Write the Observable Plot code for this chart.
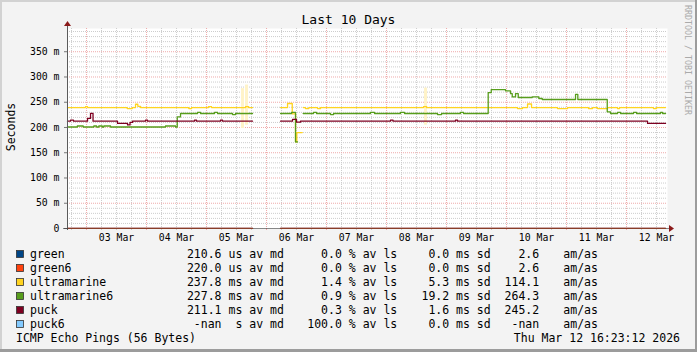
<!DOCTYPE html>
<html><head><meta charset="utf-8">
<script src="https://cdn.jsdelivr.net/npm/d3@7"></script>
<script src="https://cdn.jsdelivr.net/npm/@observablehq/plot@0.6"></script>
<style>
html,body{margin:0;padding:0;background:#f3f3f3;}
#chart{width:697px;height:352px;position:relative;overflow:hidden;}
#chart svg{display:block;}
</style></head><body><div id="chart"></div>
<script>
const FONT = "DejaVu Sans Mono";
const title = "Last 10 Days";
const yLabel = "Seconds";
const sideText = "RRDTOOL / TOBI OETIKER";
const footer = "ICMP Echo Pings (56 Bytes)";
const stamp = "Thu Mar 12 16:23:12 2026";
const startTime = "2026-03-02T16:23:12";
const endTime = "2026-03-12T16:23:12";
const yMax = 396;

const xLabelTimes = ["2026-03-03T12:00","2026-03-04T12:00","2026-03-05T12:00","2026-03-06T12:00","2026-03-07T12:00","2026-03-08T12:00","2026-03-09T12:00","2026-03-10T12:00","2026-03-11T12:00","2026-03-12T12:00"];
const xLabels = ["03 Mar","04 Mar","05 Mar","06 Mar","07 Mar","08 Mar","09 Mar","10 Mar","11 Mar","12 Mar"];
const yTicks = [0, 50, 100, 150, 200, 250, 300, 350];
const yTickLabels = ["0", "50 m", "100 m", "150 m", "200 m", "250 m", "300 m", "350 m"];

// legend
const legendNames = ["green","green6","ultramarine","ultramarine6","puck","puck6"];
const legendColors = ["#004586","#ff420e","#ffd320","#579d1c","#7e0021","#83caff"];
const avgValues = ["210.6","220.0","237.8","227.8","211.1","-nan"];
const avgUnits = ["us","us","ms","ms","ms","s"];
const lossValues = ["0.0","0.0","1.4","0.9","0.3","100.0"];
const sdValues = ["0.0","0.0","5.3","19.2","1.6","0.0"];
const amasValues = ["2.6","2.6","114.1","264.3","245.2","-nan"];

// series (ms), step-after; null = no data
const green = [
  ["2026-03-02T16:23", 0.2106], ["2026-03-05T18:24", 0.2106], ["2026-03-05T18:24", null],
  ["2026-03-06T05:36", 0.2106], ["2026-03-12T15:36", 0.2106]
];
const green6 = [
  ["2026-03-02T16:23", 0.22], ["2026-03-05T18:24", 0.22], ["2026-03-05T18:24", null],
  ["2026-03-06T05:36", 0.22], ["2026-03-12T15:36", 0.22]
];
const ultramarine = [
  ["2026-03-02T16:23", 239.5], ["2026-03-02T23:36", 241.5], ["2026-03-03T00:24", 239.5],
  ["2026-03-03T16:17", 237.5], ["2026-03-03T18:17", 239.5], ["2026-03-03T19:36", 246],
  ["2026-03-03T20:31", 242], ["2026-03-03T21:36", 239.5], ["2026-03-04T16:55", 237.5],
  ["2026-03-04T18:00", 239.5], ["2026-03-05T00:48", 241.5], ["2026-03-05T02:00", 239.5],
  ["2026-03-05T15:36", 241.5], ["2026-03-05T16:48", 239.5], ["2026-03-05T18:24", 239.5],
  ["2026-03-05T18:24", null],
  ["2026-03-06T05:36", 239.5], ["2026-03-06T08:24", 247.5], ["2026-03-06T10:17", 227],
  ["2026-03-06T11:36", 171.5], ["2026-03-06T12:07", 190], ["2026-03-06T14:17", 190],
  ["2026-03-06T14:17", null],
  ["2026-03-06T14:41", 239.5], ["2026-03-06T15:36", 237.5], ["2026-03-06T16:55", 239.5],
  ["2026-03-06T20:24", 237.5], ["2026-03-06T21:36", 239.5], ["2026-03-08T14:48", 241.5],
  ["2026-03-08T16:00", 239.5], ["2026-03-10T04:24", 237.5], ["2026-03-10T06:24", 239.5],
  ["2026-03-10T08:24", 246.5], ["2026-03-10T10:00", 239.5], ["2026-03-10T20:24", 237.5],
  ["2026-03-11T00:24", 239.5], ["2026-03-11T08:48", 237.5], ["2026-03-11T10:24", 239.5],
  ["2026-03-11T12:24", 237.5], ["2026-03-11T16:24", 239.5], ["2026-03-11T20:24", 237.5],
  ["2026-03-11T21:12", 239.5], ["2026-03-12T10:48", 237.5], ["2026-03-12T12:00", 239.5],
  ["2026-03-12T15:36", 239.5]
];
const ultramarine6 = [
  ["2026-03-02T16:23", 201], ["2026-03-02T20:20", 203], ["2026-03-02T22:40", 201],
  ["2026-03-03T02:55", 203], ["2026-03-03T04:00", 201], ["2026-03-03T04:55", 203],
  ["2026-03-03T06:17", 201], ["2026-03-03T06:55", 203], ["2026-03-03T09:36", 201],
  ["2026-03-04T07:36", 203], ["2026-03-04T11:36", 201], ["2026-03-04T12:17", 221],
  ["2026-03-04T13:36", 227.7], ["2026-03-04T20:24", 230], ["2026-03-04T21:36", 227.7],
  ["2026-03-05T03:12", 230], ["2026-03-05T04:24", 227.7], ["2026-03-05T10:24", 225.5],
  ["2026-03-05T11:36", 227.7], ["2026-03-05T18:24", 227.7], ["2026-03-05T18:24", null],
  ["2026-03-06T05:36", 227.7], ["2026-03-06T10:00", 230], ["2026-03-06T11:36", 171.5],
  ["2026-03-06T12:24", 171.5], ["2026-03-06T12:24", null],
  ["2026-03-06T14:40", 227.7], ["2026-03-06T18:48", 230], ["2026-03-06T20:00", 227.7],
  ["2026-03-07T01:36", 225.5], ["2026-03-07T02:48", 227.7], ["2026-03-07T17:36", 230],
  ["2026-03-07T19:12", 227.7], ["2026-03-08T05:36", 230], ["2026-03-08T07:12", 227.7],
  ["2026-03-08T20:24", 225.5], ["2026-03-08T22:00", 227.7], ["2026-03-09T05:36", 230],
  ["2026-03-09T06:48", 227.7], ["2026-03-09T16:40", 269], ["2026-03-09T17:53", 275],
  ["2026-03-09T23:36", 272.5], ["2026-03-10T01:36", 267], ["2026-03-10T02:17", 260.6],
  ["2026-03-10T03:36", 267], ["2026-03-10T04:41", 259.4], ["2026-03-10T10:17", 260.6],
  ["2026-03-10T12:55", 257.4], ["2026-03-10T14:17", 255.4], ["2026-03-11T03:36", 265.5],
  ["2026-03-11T04:31", 255.4], ["2026-03-11T16:17", 231], ["2026-03-11T17:36", 227.7],
  ["2026-03-11T20:24", 230], ["2026-03-11T21:36", 227.7], ["2026-03-12T02:48", 230],
  ["2026-03-12T04:00", 227.7], ["2026-03-12T13:36", 230], ["2026-03-12T14:24", 227.7],
  ["2026-03-12T15:36", 227.7]
];
const puck = [
  ["2026-03-02T16:23", 212.5], ["2026-03-02T17:36", 214.5], ["2026-03-02T18:48", 212.5],
  ["2026-03-03T00:24", 218], ["2026-03-03T01:36", 228], ["2026-03-03T02:36", 212.5],
  ["2026-03-03T12:24", 208], ["2026-03-03T16:24", 205], ["2026-03-03T17:24", 210],
  ["2026-03-03T18:24", 212.5], ["2026-03-03T23:36", 214.5], ["2026-03-04T00:24", 212.5],
  ["2026-03-04T19:12", 214.5], ["2026-03-04T20:00", 212.5], ["2026-03-05T05:36", 214.5],
  ["2026-03-05T06:24", 212.5], ["2026-03-05T18:24", 212.5], ["2026-03-05T18:24", null],
  ["2026-03-06T05:36", 212.5], ["2026-03-06T10:24", 216], ["2026-03-06T12:00", 210.5],
  ["2026-03-06T13:36", 212.5], ["2026-03-08T01:36", 214.5], ["2026-03-08T02:36", 212.5],
  ["2026-03-09T03:36", 214.5], ["2026-03-09T04:24", 212.5], ["2026-03-12T08:24", 208],
  ["2026-03-12T15:36", 208]
];
// smoke (ultramarine spread)
const smokeTimes = ["2026-03-05T14:24", "2026-03-05T16:00", "2026-03-08T15:36"];
const smokeLow = [198, 204.5, 204.5];
const smokeHigh = [277, 284, 278];

const seriesList = [
  {name: "green", data: green, color: legendColors[0]},
  {name: "green6", data: green6, color: legendColors[1]},
  {name: "ultramarine", data: ultramarine, color: legendColors[2]},
  {name: "ultramarine6", data: ultramarine6, color: legendColors[3]},
  {name: "puck", data: puck, color: legendColors[4]}
];

const t0 = new Date(startTime), t1 = new Date(endTime);
const majorX = d3.timeDay.range(t0, t1);
const minorX = d3.timeHour.every(6).range(t0, t1).filter(d => d.getHours() !== 0);
const majorY = d3.range(50, yMax, 50);
const minorY = d3.range(10, yMax, 10).filter(v => v % 50 !== 0);
const xLabelMap = new Map(xLabelTimes.map((s, i) => [+new Date(s), xLabels[i]]));
const yLabelMap = new Map(yTicks.map((v, i) => [v, yTickLabels[i]]));
const smoke = smokeTimes.map((t, i) => ({t: new Date(t), lo: smokeLow[i], hi: smokeHigh[i]}));

const lineMarks = seriesList.map(s => Plot.line(
  s.data.map(([t, v]) => ({t: new Date(t), v})),
  {x: "t", y: "v", stroke: s.color, strokeWidth: 1.3, curve: "step-after"}
));

const chart = Plot.plot({
  width: 697, height: 352,
  marginLeft: 67, marginRight: 30, marginTop: 28, marginBottom: 124,
  style: {background: "transparent", fontFamily: FONT, fontSize: "9.8px", color: "#000", overflow: "visible"},
  x: {type: "time", domain: [t0, t1]},
  y: {domain: [0, yMax]},
  marks: [
    Plot.frame({fill: "white", stroke: null}),
    Plot.ruleY(minorY, {stroke: "#cdcdcd", strokeDasharray: "1,1"}),
    Plot.ruleX(minorX, {stroke: "#cdcdcd", strokeDasharray: "1,1"}),
    Plot.ruleY(majorY, {stroke: "#efaaaa", strokeDasharray: "1,1"}),
    Plot.ruleX(majorX, {stroke: "#efaaaa", strokeDasharray: "1,1"}),
    Plot.ruleX(minorX, {y1: 0, y2: -4, stroke: "#c8c8c8"}),
    Plot.ruleX(majorX, {y1: 0, y2: -4, stroke: "#efaaaa"}),
    Plot.ruleX(smoke, {x: "t", y1: "lo", y2: "hi", stroke: "#fff3c8", strokeWidth: 3}),
    Plot.axisY(yTicks, {tickFormat: d => yLabelMap.get(d), tickSize: 3, tickPadding: 5, stroke: "#777", label: null}),
    Plot.axisX(xLabelTimes.map(s => new Date(s)), {tickFormat: d => xLabelMap.get(+d), tickSize: 0, tickPadding: 6, label: null}),
    ...lineMarks
  ]
});

const svg = d3.select(chart);
const X = chart.scale("x"), Y = chart.scale("y");
const x0 = X.apply(t0), x1 = X.apply(t1), y0 = Y.apply(0), yTop = Y.apply(yMax);

// axes lines & arrows
svg.append("line").attr("x1", x0 + 0.5).attr("x2", x0 + 0.5).attr("y1", y0 + 2).attr("y2", yTop - 5)
  .attr("stroke", "#5a5a5a");
svg.append("line").attr("x1", x0 - 4).attr("x2", x1 + 2).attr("y1", y0 + 0.5).attr("y2", y0 + 0.5)
  .attr("stroke", "#3a3a3a").attr("stroke-opacity", 0.6);
svg.append("path").attr("d", `M${x0 - 3},${yTop - 2}L${x0 + 4},${yTop - 2}L${x0 + 0.5},${yTop - 7}Z`).attr("fill", "#8b1a1a");
svg.append("path").attr("d", `M${x1 + 2},${y0 - 3}L${x1 + 2},${y0 + 4}L${x1 + 7},${y0 + 0.5}Z`).attr("fill", "#8b1a1a");

// borders
svg.append("rect").attr("x", 0).attr("y", 0).attr("width", 697).attr("height", 2).attr("fill", "#d2d2d2");
svg.append("rect").attr("x", 0).attr("y", 0).attr("width", 2).attr("height", 352).attr("fill", "#d2d2d2");
svg.append("rect").attr("x", 695).attr("y", 0).attr("width", 2).attr("height", 352).attr("fill", "#9c9c9c");
svg.append("rect").attr("x", 0).attr("y", 349).attr("width", 697).attr("height", 3).attr("fill", "#9c9c9c");

const txt = (x, y, s, opts = {}) => svg.append("text").attr("x", x).attr("y", y).attr("dy", "0.35em")
  .attr("font-family", FONT).attr("font-size", opts.size || 11.5).attr("fill", opts.fill || "#000")
  .attr("text-anchor", opts.anchor || "start").attr("transform", opts.transform || null).text(s);

txt(348.5, 19, title, {size: 13, anchor: "middle"});
txt(0, 0, yLabel, {size: 11.5, anchor: "middle", transform: "translate(11,127) rotate(-90)"});
txt(0, 0, sideText, {size: 8.3, fill: "#aaaaaa", transform: "translate(688,5) rotate(90)"});

legendNames.forEach((name, i) => {
  const cy = 254.3 + i * 14;
  svg.append("rect").attr("x", 16.5).attr("y", cy - 3.8).attr("width", 7).attr("height", 7)
    .attr("fill", legendColors[i]).attr("stroke", "#333").attr("stroke-width", 0.8);
  txt(30, cy, name);
  txt(221.5, cy, avgValues[i], {anchor: "end"});
  txt(242.4, cy, avgUnits[i], {anchor: "end"});
  txt(249.3, cy, "av md");
  txt(341.9, cy, lossValues[i], {anchor: "end"});
  txt(348.8, cy, "% av ls");
  txt(449.2, cy, sdValues[i], {anchor: "end"});
  txt(456.1, cy, "ms sd");
  txt(539.2, cy, amasValues[i], {anchor: "end"});
  txt(563.3, cy, "am/as");
});
txt(16, 338.3, footer);
txt(680, 338.3, stamp, {anchor: "end"});

document.getElementById("chart").appendChild(chart);
</script></body></html>
